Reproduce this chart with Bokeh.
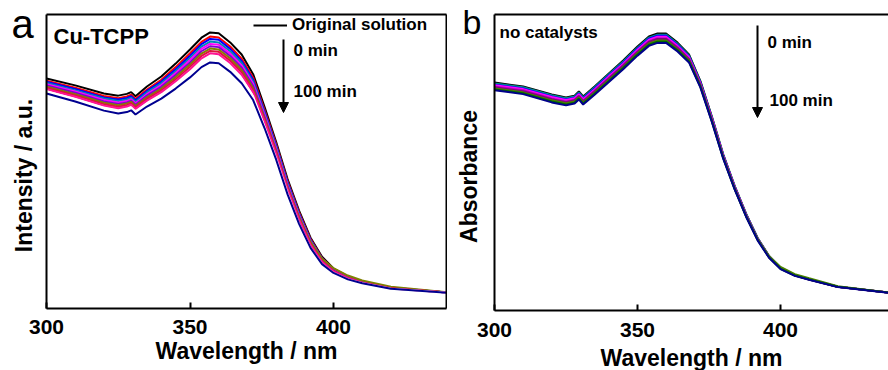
from math import pi
from bokeh.plotting import figure
from bokeh.models import (Range1d, FixedTicker, LinearAxis, Label, Arrow, NormalHead,
                          Legend, LegendItem)
from bokeh.layouts import row
from bokeh.embed import file_html
from bokeh.resources import INLINE

# ---------------- data ----------------
wavelength = [300, 310, 320, 325, 328, 329.5, 331, 335, 340, 345, 350, 354, 357, 360,
              364, 368, 372, 376, 380, 384, 388, 392, 396, 400, 405, 410, 420, 440]
x_ticks = [300, 350, 400]

# panel a : Cu-TCPP (original solution, then 0 ... 100 min)
a_original = [.782, .759, .731, .724, .730, .736, .722, .755, .789, .833, .881, .921, .939, .936,
              .905, .864, .797, .685, .567, .440, .333, .241, .176, .136, .109, .092, .071, .054]
a_t1 = [.775, .751, .723, .715, .721, .727, .713, .745, .778, .821, .868, .907, .925, .922,
        .891, .850, .785, .675, .559, .433, .327, .236, .172, .134, .108, .091, .070, .054]
a_t2 = [.771, .747, .718, .711, .716, .722, .708, .740, .772, .814, .860, .899, .917, .914,
        .883, .842, .778, .669, .554, .429, .323, .233, .170, .133, .107, .091, .070, .054]
a_t3 = [.767, .742, .714, .706, .711, .717, .703, .735, .766, .807, .852, .891, .908, .905,
        .875, .835, .771, .663, .549, .424, .319, .230, .168, .131, .106, .090, .070, .054]
a_t4 = [.763, .738, .709, .701, .706, .712, .698, .729, .760, .801, .845, .883, .900, .897,
        .867, .827, .764, .658, .544, .420, .316, .228, .166, .130, .105, .090, .069, .054]
a_t5 = [.759, .734, .704, .696, .701, .707, .693, .724, .754, .794, .837, .875, .892, .889,
        .859, .819, .757, .652, .539, .416, .312, .225, .164, .129, .104, .089, .069, .054]
a_t6 = [.754, .729, .700, .691, .697, .703, .689, .718, .748, .787, .830, .867, .884, .881,
        .851, .811, .749, .646, .535, .412, .311, .226, .169, .137, .112, .095, .074, .055]
a_t7 = [.750, .725, .695, .686, .692, .698, .684, .713, .742, .780, .822, .859, .876, .873,
        .843, .803, .742, .640, .530, .408, .305, .219, .160, .127, .103, .088, .069, .054]
a_t8 = [.746, .720, .690, .681, .687, .693, .679, .707, .736, .773, .814, .851, .868, .865,
        .835, .795, .735, .635, .525, .404, .301, .216, .158, .125, .102, .088, .068, .054]
a_t9 = [.739, .712, .682, .672, .677, .683, .669, .697, .725, .761, .800, .836, .852, .849,
        .820, .781, .722, .618, .511, .392, .288, .206, .151, .121, .099, .086, .067, .053]
a_t10 = [.731, .704, .673, .663, .668, .674, .660, .687, .714, .748, .786, .821, .837, .834,
         .805, .766, .709, .613, .507, .388, .288, .206, .151, .121, .099, .086, .067, .053]
a_series = [a_original, a_t1, a_t2, a_t3, a_t4, a_t5, a_t6, a_t7, a_t8, a_t9, a_t10]
a_colors = ["#000000", "#FF0000", "#0000FF", "#0088B0", "#FF00FF", "#8000D0",
            "#808000", "#DC143C", "#FF1493", "#FFFFFF", "#000090"]

# panel b : no catalysts (0 ... 100 min)
b_t0 = [.770, .757, .730, .720, .726, .740, .723, .757, .801, .845, .892, .926, .936, .936,
        .905, .865, .775, .655, .527, .420, .326, .245, .184, .145, .120, .106, .080, .058]
b_t1 = [.767, .754, .727, .717, .723, .737, .720, .754, .798, .841, .888, .922, .932, .932,
        .901, .862, .772, .653, .525, .419, .325, .244, .183, .145, .120, .106, .080, .058]
b_t2 = [.763, .750, .723, .713, .719, .733, .716, .750, .794, .837, .884, .918, .928, .928,
        .897, .858, .769, .650, .523, .417, .323, .243, .182, .144, .119, .106, .080, .058]
b_t3 = [.761, .748, .721, .711, .717, .731, .714, .747, .791, .834, .881, .915, .925, .925,
        .894, .856, .767, .649, .522, .416, .322, .242, .182, .144, .119, .106, .080, .058]
b_t4 = [.757, .744, .716, .706, .712, .726, .709, .743, .786, .830, .876, .910, .920, .920,
        .890, .851, .764, .646, .519, .414, .321, .241, .181, .143, .119, .105, .080, .058]
b_t5 = [.754, .741, .714, .704, .710, .724, .707, .740, .784, .827, .873, .907, .917, .917,
        .887, .849, .762, .644, .518, .413, .320, .240, .180, .143, .119, .105, .080, .058]
b_t6 = [.750, .737, .710, .700, .706, .720, .703, .736, .779, .822, .869, .902, .912, .912,
        .882, .845, .758, .641, .516, .411, .319, .241, .183, .147, .123, .109, .082, .058]
b_t7 = [.747, .734, .706, .696, .702, .716, .699, .732, .775, .819, .865, .898, .908, .908,
        .879, .841, .756, .639, .514, .409, .317, .238, .179, .141, .118, .105, .080, .058]
b_t8 = [.744, .731, .703, .693, .699, .713, .696, .729, .772, .815, .861, .894, .904, .904,
        .875, .838, .753, .637, .512, .408, .316, .237, .178, .140, .117, .104, .079, .057]
b_series = [b_t0, b_t1, b_t2, b_t3, b_t4, b_t5, b_t6, b_t7, b_t8]
b_colors = ["#000000", "#008B8B", "#0000FF", "#FF00FF", "#C000C0", "#800080",
            "#4B8000", "#006400", "#00008B"]

FONT = "Liberation Sans"


def frame_axis(p, side, loc, bounds):
    ax = LinearAxis(ticker=FixedTicker(ticks=[]), fixed_location=loc, bounds=bounds,
                    axis_line_width=2, axis_line_color="black",
                    major_tick_line_color=None, minor_tick_line_color=None)
    p.add_layout(ax, side)
    return ax


def bottom_axis(p, bounds, standoff):
    ax = LinearAxis(ticker=FixedTicker(ticks=x_ticks), fixed_location=0, bounds=bounds)
    ax.major_tick_in = 6
    ax.major_tick_out = 0
    ax.major_tick_line_width = 2
    ax.major_tick_line_color = "black"
    ax.minor_tick_line_color = None
    ax.axis_line_width = 2
    ax.axis_line_color = "black"
    ax.major_label_text_font = FONT
    ax.major_label_text_font_style = "bold"
    ax.major_label_text_font_size = "21px"
    ax.major_label_text_color = "black"
    ax.major_label_standoff = 12
    ax.axis_label = "Wavelength / nm"
    ax.axis_label_text_font = FONT
    ax.axis_label_text_font_style = "bold"
    ax.axis_label_text_font_size = "23px"
    ax.axis_label_text_color = "black"
    ax.axis_label_standoff = standoff
    p.add_layout(ax, "below")


def text_label(p, x, y, text, size, bold=True, **kw):
    # (x, y): screen position, y measured upward; text is anchored at its middle
    p.add_layout(Label(x=x, y=y, x_units="screen", y_units="screen", text=text,
                       text_font=FONT, text_font_style="bold" if bold else "normal",
                       text_font_size=size, text_color="black",
                       text_baseline="middle", **kw))


def base_figure(width, xr, yr):
    p = figure(width=width, height=370, x_range=Range1d(*xr), y_range=Range1d(*yr),
               output_backend="svg", toolbar_location=None, x_axis_type=None, y_axis_type=None,
               min_border_left=0, min_border_right=0, min_border_top=0, min_border_bottom=0)
    p.grid.visible = False
    p.outline_line_color = None
    return p


# ---------------- panel a ----------------
pa = base_figure(447, (283.97, 439.72), (-0.2109, 1.0476))
bottom_axis(pa, (300, 439.37), 0)
frame_axis(pa, "left", 300, (0, 1))
frame_axis(pa, "above", 1, (300, 439.37))
frame_axis(pa, "right", 439.37, (0, 1))

renderers_a = []
for ys, c in zip(a_series, a_colors):
    renderers_a.append(pa.line(wavelength, ys, line_color=c, line_width=2))

legend = Legend(items=[LegendItem(label="Original solution", renderers=[renderers_a[0]])],
                location=(253, 335), glyph_width=34, glyph_height=20, label_height=20,
                label_standoff=5, padding=0, margin=0, spacing=0,
                border_line_color=None, background_fill_alpha=0,
                label_text_font=FONT, label_text_font_style="bold",
                label_text_font_size="17px", label_text_color="black")
pa.add_layout(legend)

text_label(pa, 53, 334.5, "Cu-TCPP", "22px")
text_label(pa, 293, 320.5, "0 min", "17px")
text_label(pa, 293, 279.5, "100 min", "17px")
pa.add_layout(Arrow(x_start=283, y_start=331, x_end=283, y_end=258,
                    start_units="screen", end_units="screen", line_width=2, line_color="black",
                    end=NormalHead(size=10, fill_color="black", line_color="black")))
text_label(pa, 23, 195, "Intensity / a.u.", "23px", angle=pi / 2, text_align="center")
text_label(pa, 11, 347, "a", "40px", bold=False)

# ---------------- panel b ----------------
pb = base_figure(441, (283.57, 437.76), (-0.2027, 1.0473))
bottom_axis(pb, (300, 437.76), 5)
frame_axis(pb, "left", 300, (0, 1))
frame_axis(pb, "above", 1, (300, 437.76))

for ys, c in zip(b_series, b_colors):
    pb.line(wavelength, ys, line_color=c, line_width=2)

text_label(pb, 52, 338, "no catalysts", "17px")
text_label(pb, 320, 328, "0 min", "17px")
text_label(pb, 322, 270, "100 min", "17px")
pb.add_layout(Arrow(x_start=310, y_start=345, x_end=310, y_end=253,
                    start_units="screen", end_units="screen", line_width=2, line_color="black",
                    end=NormalHead(size=10, fill_color="black", line_color="black")))
text_label(pb, 21, 194, "Absorbance", "23px", angle=pi / 2, text_align="center")
text_label(pb, 15, 349, "b", "34px", bold=False)

layout = row(pa, pb)
open("out.html", "w").write(file_html(layout, INLINE))
